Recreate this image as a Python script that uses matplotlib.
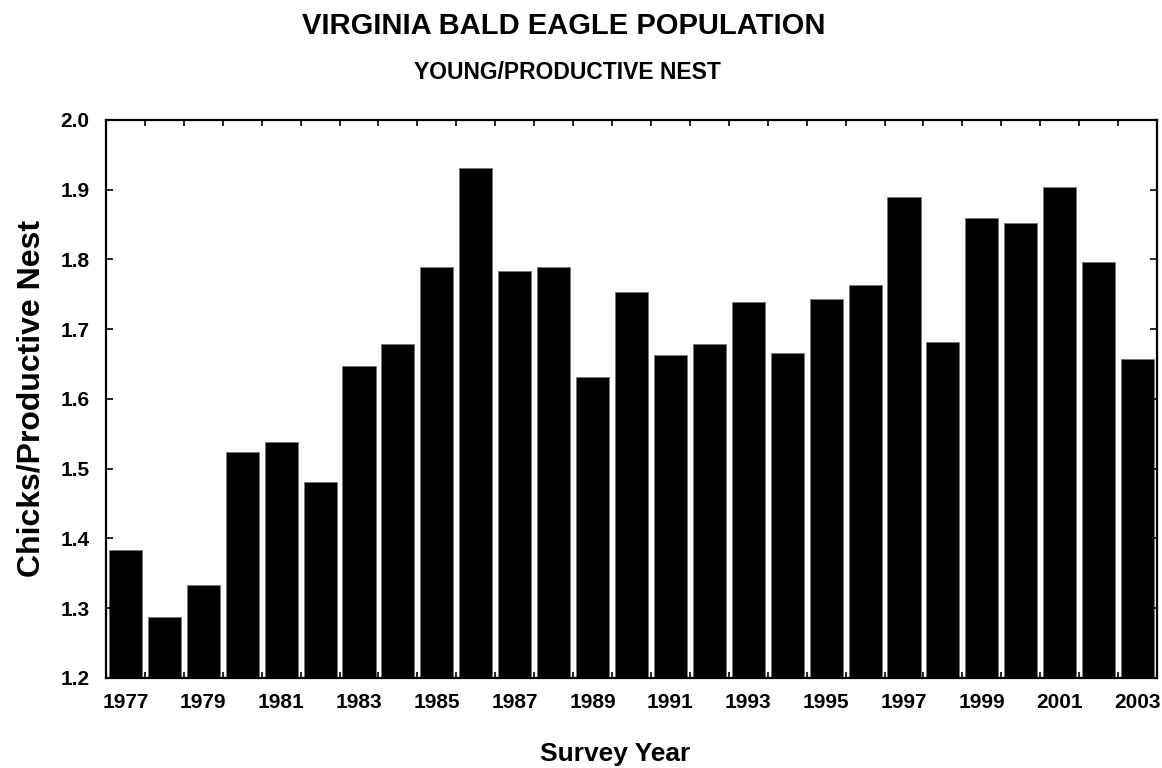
# Virginia bald eagle population - young per productive nest, bar chart
import numpy as np
import matplotlib
matplotlib.use('Agg')
import matplotlib.pyplot as plt
import matplotlib.ticker as ticker

years = list(range(1977, 2004))
chicks_per_nest = [1.384, 1.287, 1.334, 1.524, 1.539, 1.481, 1.647, 1.679,
                   1.789, 1.931, 1.783, 1.789, 1.631, 1.754, 1.663, 1.679,
                   1.739, 1.666, 1.744, 1.763, 1.889, 1.681, 1.860, 1.852,
                   1.904, 1.796, 1.657]
year_labels = [str(y) for y in years[::2]]

font = ['Liberation Sans', 'DejaVu Sans']

fig = plt.figure(figsize=(11.62, 7.68), dpi=100)
ax = fig.add_axes([0.0912, 0.1172, 0.9045, 0.7266])

x = np.arange(len(years))
ax.bar(x, chicks_per_nest, width=0.85, color='black',
       edgecolor='#777777', linewidth=0.6)

ax.set_xlim(-0.5, len(years) - 0.5)
ax.set_ylim(1.2, 2.0)

# year labels on every other bar, tick marks between the bars
ax.set_xticks(x[::2])
ax.set_xticklabels(year_labels, family=font, fontweight='bold', fontsize=15)
ax.xaxis.set_minor_locator(ticker.FixedLocator(np.arange(0.5, len(years) - 0.5, 1)))
ax.tick_params(axis='x', which='major', length=0, pad=11)
ax.tick_params(axis='x', which='minor', direction='in', length=4, width=1.2,
               top=True, bottom=True)

ax.yaxis.set_major_locator(ticker.MultipleLocator(0.1))
ax.yaxis.set_major_formatter(ticker.FormatStrFormatter('%.1f'))
ax.tick_params(axis='y', direction='in', length=5, width=1.2, left=True, right=True, pad=12)
for lab in ax.get_yticklabels():
    lab.set_family(font)
    lab.set_fontweight('bold')
    lab.set_fontsize(15)

for s in ax.spines.values():
    s.set_linewidth(1.6)

ax.set_ylabel('Chicks/Productive Nest', family=font, fontweight='bold',
              fontsize=23, labelpad=10)
ax.set_xlabel('Survey Year', family=font, fontweight='bold', fontsize=19)
ax.xaxis.set_label_coords(0.484, -0.114)

fig.text(0.485, 0.966, 'VIRGINIA BALD EAGLE POPULATION', ha='center', va='center',
         family=font, fontweight='bold', fontsize=21)
fig.text(0.488, 0.906, 'YOUNG/PRODUCTIVE NEST', ha='center', va='center',
         family=font, fontweight='bold', fontsize=16.5)

plt.savefig('out.png', dpi=100)
